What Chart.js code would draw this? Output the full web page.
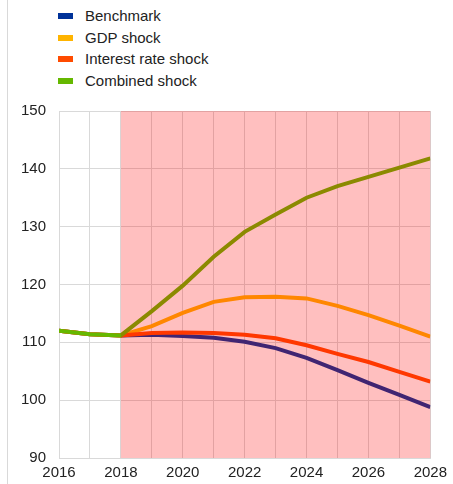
<!DOCTYPE html>
<html>
<head>
<meta charset="utf-8">
<script src="https://cdn.jsdelivr.net/npm/chart.js@4/dist/chart.umd.min.js"></script>
<style>
  html, body { margin: 0; padding: 0; background: #fff; }
  #wrap { position: relative; width: 453px; height: 484px; font-family: "Liberation Sans", Arial, sans-serif; }
  #frame { position: absolute; left: 7px; top: 0; width: 1px; height: 484px; background: #d9d9d9; }
  #legend { position: absolute; left: 58px; top: 5px; font-size: 15px; color: #222; }
  #legend div { height: 21.5px; line-height: 21.5px; white-space: nowrap; }
  #legend span.box { display: inline-block; width: 15px; height: 6px; margin-right: 12px; vertical-align: middle; position: relative; top: -1px; }
  canvas { position: absolute; left: 0; top: 0; }
</style>
</head>
<body>
<div id="wrap">
  <div id="frame"></div>
  <div id="legend"></div>
  <canvas id="chart" width="453" height="484"></canvas>
</div>
<script>
// Debt ratio scenarios, 2016-2028

const years = [2016, 2017, 2018, 2019, 2020, 2021, 2022, 2023, 2024, 2025, 2026, 2027, 2028];

const benchmark = [112.0, 111.4, 111.2, 111.3, 111.1, 110.8, 110.1, 109.0, 107.3, 105.2, 103.0, 100.9, 98.8];
const gdpShock = [112.0, 111.4, 111.2, 112.8, 115.1, 117.0, 117.8, 117.9, 117.6, 116.3, 114.7, 112.9, 111.0];
const interestShock = [112.0, 111.4, 111.2, 111.6, 111.7, 111.6, 111.3, 110.7, 109.5, 108.0, 106.6, 104.9, 103.2];
const combinedShock = [112.0, 111.4, 111.2, 115.4, 119.8, 124.8, 129.1, 132.1, 135.0, 137.0, 138.6, 140.2, 141.8];

const seriesNames = ['Benchmark', 'GDP shock', 'Interest rate shock', 'Combined shock'];
const seriesColors = ['#003299', '#FFB400', '#FF4B00', '#65B800'];

const yTicks = [90, 100, 110, 120, 130, 140, 150];

// projection period shaded
const SHADE_START = 2018;
const SHADE_END = 2028;

function toPoints(values) {
    return years.map((yr, i) => ({ x: yr, y: values[i] }));
}

// Legend (vertical, top left)
function buildLegend() {
    const el = document.getElementById('legend');
    seriesNames.forEach((name, i) => {
        const row = document.createElement('div');
        const box = document.createElement('span');
        box.className = 'box';
        box.style.background = seriesColors[i];
        row.appendChild(box);
        row.appendChild(document.createTextNode(name));
        el.appendChild(row);
    });
}

// Semi-transparent red box over the projection years
const shadePlugin = {
    id: 'shade',
    afterDatasetsDraw(chart) {
        const { ctx, scales } = chart;
        const x0 = scales.x.getPixelForValue(SHADE_START);
        const x1 = scales.x.getPixelForValue(SHADE_END);
        const y0 = scales.y.getPixelForValue(yTicks[yTicks.length - 1]);
        const y1 = scales.y.getPixelForValue(yTicks[0]);
        ctx.save();
        ctx.fillStyle = 'rgba(255, 0, 0, 0.25)';
        ctx.fillRect(x0, y0, x1 - x0, y1 - y0);
        ctx.restore();
    }
};

function createChart() {
    const allSeries = [benchmark, gdpShock, interestShock, combinedShock];
    const datasets = allSeries.map((values, i) => ({
        label: seriesNames[i],
        data: toPoints(values),
        borderColor: seriesColors[i],
        backgroundColor: seriesColors[i],
        borderWidth: 4,
        pointRadius: 0,
        tension: 0,
        fill: false,
        order: allSeries.length - i
    }));

    new Chart(document.getElementById('chart'), {
        type: 'line',
        data: { datasets: datasets },
        plugins: [shadePlugin],
        options: {
            responsive: false,
            animation: false,
            layout: { padding: { left: 0, top: 111, right: 19, bottom: 0 } },
            plugins: {
                legend: { display: false },
                tooltip: { enabled: false }
            },
            scales: {
                x: {
                    type: 'linear',
                    min: years[0],
                    max: years[years.length - 1],
                    afterFit: function(scale) { scale.height = 26; },
                    grid: { color: '#d9d9d9', lineWidth: 1, drawTicks: false },
                    border: { color: '#d9d9d9' },
                    ticks: {
                        stepSize: 1,
                        autoSkip: false,
                        maxRotation: 0,
                        padding: 6,
                        color: '#222',
                        font: { family: '"Liberation Sans", Arial, sans-serif', size: 15 },
                        callback: function(value) {
                            return value % 2 === 0 ? String(value) : '';
                        }
                    }
                },
                y: {
                    min: yTicks[0],
                    max: yTicks[yTicks.length - 1],
                    afterFit: function(scale) { scale.width = 59; },
                    grid: { color: '#d9d9d9', lineWidth: 1, drawTicks: false },
                    border: { color: '#d9d9d9' },
                    ticks: {
                        stepSize: 10,
                        padding: 13,
                        color: '#222',
                        font: { family: '"Liberation Sans", Arial, sans-serif', size: 15 }
                    }
                }
            }
        }
    });
}

buildLegend();
createChart();
</script>
</body>
</html>
